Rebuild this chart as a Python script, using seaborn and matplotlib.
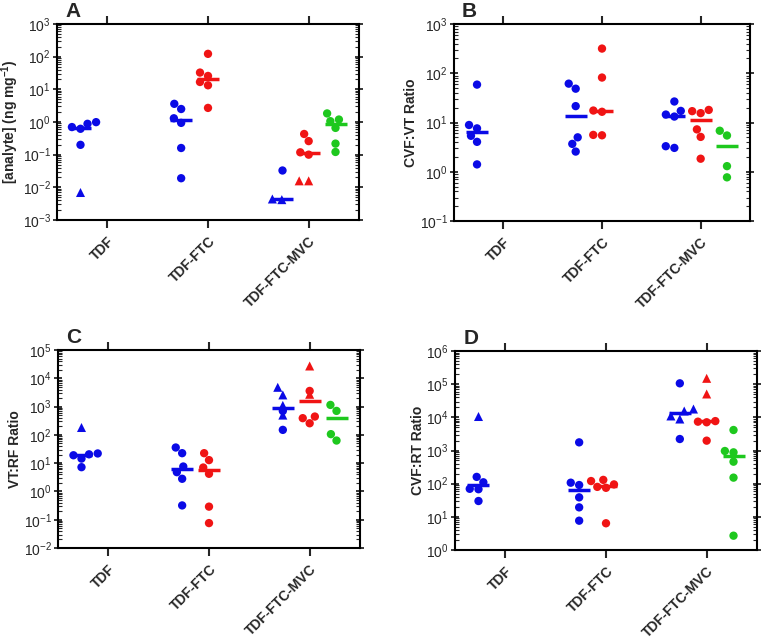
import numpy as np
import pandas as pd
import matplotlib
matplotlib.use('Agg')
import matplotlib.pyplot as plt
from matplotlib.ticker import LogLocator, NullFormatter
import seaborn as sns

groups = ["TDF", "TDF-FTC", "TDF-FTC-MVC"]
analytes = ["TFV", "FTC", "MVC"]
colors = ["#0a0ae6", "#f01414", "#1ec81e"]

# (group, analyte, circles, triangles)
panel_a = [
    ("TDF", "TFV", [0.99, 0.88, 0.70, 0.62, 0.20], [0.007]),
    ("TDF-FTC", "TFV", [3.6, 2.5, 1.3, 0.94, 0.16, 0.019], []),
    ("TDF-FTC", "FTC", [122, 32.6, 25.7, 16.8, 13.3, 2.7], []),
    ("TDF-FTC-MVC", "TFV", [0.035], [0.0044, 0.0042]),
    ("TDF-FTC-MVC", "FTC", [0.43, 0.26, 0.118, 0.10], [0.0158, 0.0158]),
    ("TDF-FTC-MVC", "MVC", [1.83, 1.19, 1.06, 0.66, 0.218, 0.121], []),
]
panel_b = [
    ("TDF", "TFV", [58.8, 8.9, 7.6, 5.37, 4.05, 1.41], []),
    ("TDF-FTC", "TFV", [61.5, 48.6, 21.5, 5.0, 3.68, 2.57], []),
    ("TDF-FTC", "FTC", [317, 81.8, 17.5, 16.5, 5.6, 5.5], []),
    ("TDF-FTC-MVC", "TFV", [26.7, 17.2, 14.5, 13.2, 3.3, 3.05], []),
    ("TDF-FTC-MVC", "FTC", [18, 17, 15.5, 7.25, 5.1, 1.84], []),
    ("TDF-FTC-MVC", "MVC", [6.8, 5.45, 1.3, 0.77], []),
]
panel_c = [
    ("TDF", "TFV", [22, 20.5, 19, 14.5, 7.2], [187]),
    ("TDF-FTC", "TFV", [35.7, 22.5, 7.6, 4.8, 2.8, 0.32], []),
    ("TDF-FTC", "FTC", [22.5, 12.8, 7.0, 4.2, 0.29, 0.076], []),
    ("TDF-FTC-MVC", "TFV", [700, 150], [4800, 2580, 1100, 500]),
    ("TDF-FTC-MVC", "FTC", [3570, 444, 389, 257], [27200, 2720]),
    ("TDF-FTC-MVC", "MVC", [1145, 703, 106, 63], []),
]
panel_d = [
    ("TDF", "TFV", [160, 110, 70, 68, 30], [11200]),
    ("TDF-FTC", "TFV", [1760, 107, 91, 38.7, 19.3, 7.65], []),
    ("TDF-FTC", "FTC", [130, 120, 95, 80, 75, 6.4], []),
    ("TDF-FTC-MVC", "TFV", [106000, 2220], [17800, 15500, 11000, 8900]),
    ("TDF-FTC-MVC", "FTC", [7700, 7400, 7100, 1980], [150000, 50600]),
    ("TDF-FTC-MVC", "MVC", [4150, 966, 880, 460, 152, 2.7], []),
]

ylabels = [r"[analyte] (ng mg$^{\mathbf{-1}}$)", "CVF:VT Ratio", "VT:RF Ratio", "CVF:RT Ratio"]
ylims = [(1e-3, 1e3), (1e-1, 1e3), (1e-2, 1e5), (1e0, 1e6)]
letters = ["A", "B", "C", "D"]

sns.set_theme(style="white")
plt.rcParams['font.family'] = ['Liberation Sans', 'DejaVu Sans']
plt.rcParams['mathtext.fontset'] = 'custom'
plt.rcParams['mathtext.rm'] = 'Liberation Sans'
plt.rcParams['mathtext.bf'] = 'Liberation Sans:bold'


def build(rows):
    recs = []
    for g, a, circ, tri in rows:
        for v in circ:
            recs.append((g, a, v, "o"))
        for v in tri:
            recs.append((g, a, v, "^"))
    return pd.DataFrame(recs, columns=["group", "analyte", "value", "shape"])


def linear_median(v):
    # seaborn hands over log10 values on a log axis; take the median in data space
    return np.log10(np.median(np.power(10.0, v)))


def draw(ax, rows, ylim, ylabel, letter):
    df = build(rows)
    ax.set_yscale('log')
    kw = dict(x="group", y="value", hue="analyte", order=groups,
              hue_order=analytes, palette=colors, legend=False, ax=ax)
    sns.swarmplot(data=df[df["shape"] == "o"], marker="o", size=6,
                  dodge=True, linewidth=0, **kw)
    tri = df[df["shape"] == "^"]
    if len(tri):
        sns.swarmplot(data=tri, marker="^", size=6.5, dodge=True,
                      linewidth=0, **kw)
    sns.pointplot(data=df, estimator=linear_median, errorbar=None, markers="_",
                  linestyle="none", dodge=0.8 * 2 / 3, markersize=16,
                  markeredgewidth=2.5, **kw)
    ax.set_ylim(ylim)
    ax.set_xlim(-0.5, 2.5)
    ax.yaxis.set_major_locator(LogLocator(base=10, numticks=20))
    ax.yaxis.set_minor_locator(LogLocator(base=10, subs=np.arange(2, 10), numticks=20))
    ax.yaxis.set_minor_formatter(NullFormatter())
    ax.set_xticks(range(len(groups)))
    ax.set_xticklabels(groups, rotation=45, ha="right", va="top",
                       rotation_mode="anchor", fontweight="bold", fontsize=10)
    ax.set_xlabel("")
    ax.set_ylabel(ylabel, fontweight="bold", fontsize=10, labelpad=1)
    for s in ax.spines.values():
        s.set_visible(True)
        s.set_linewidth(1.5)
        s.set_color("black")
    ax.tick_params(axis="x", direction="out", length=6, width=1.5,
                   top=True, bottom=True, pad=4)
    ax.tick_params(axis="y", which="major", direction="inout", length=6,
                   width=1.3, left=True, right=True, labelsize=10, pad=1.5)
    ax.tick_params(axis="y", which="minor", direction="in", length=3,
                   width=0.8, left=True, right=True)
    ax.text(0.027, 1.035, letter, transform=ax.transAxes, fontsize=15,
            fontweight="bold", va="baseline", ha="left")


fig = plt.figure(figsize=(7.61, 6.40), dpi=100)
rects = [
    [57 / 761, 1 - 220 / 640, 302 / 761, 196 / 640],
    [454 / 761, 1 - 221 / 640, 296 / 761, 197 / 640],
    [58 / 761, 1 - 548 / 640, 302 / 761, 198 / 640],
    [455 / 761, 1 - 550 / 640, 302 / 761, 199 / 640],
]
panels = [panel_a, panel_b, panel_c, panel_d]
for rect, rows, ylim, ylab, let in zip(rects, panels, ylims, ylabels, letters):
    ax = fig.add_axes(rect)
    draw(ax, rows, ylim, ylab, let)

fig.savefig("out.png", dpi=100)
